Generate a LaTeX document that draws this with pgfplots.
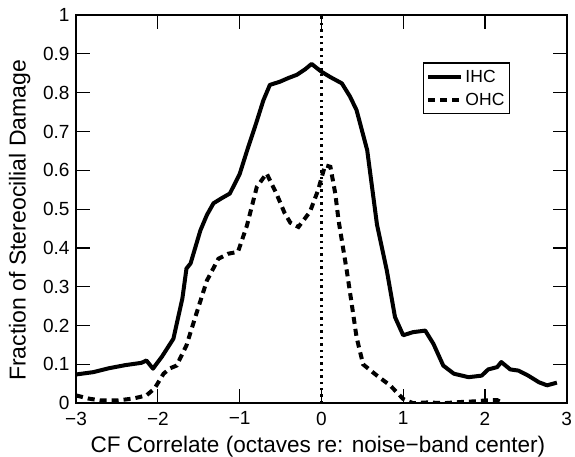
\documentclass[border=0pt]{standalone}
\usepackage{pgfplots}
\pgfplotsset{compat=1.18}
\usepackage{fontspec}
\setmainfont{Liberation Sans}
\begin{document}
\begin{tikzpicture}
\begin{axis}[
  scale only axis,
  width=490pt, height=387.7pt,
  xmin=-3, xmax=3, ymin=0, ymax=1,
  xtick={-3,-2,-1,0,1,2,3},
  xticklabels={−3,−2,−1,0,1,2,3},
  ytick={0,0.1,0.2,0.3,0.4,0.5,0.6,0.7,0.8,0.9,1},
  yticklabels={0,0.1,0.2,0.3,0.4,0.5,0.6,0.7,0.8,0.9,1},
  tick align=inside,
  major tick length=14pt,
  every tick/.style={black, line width=1.2pt},
  axis line style={line width=1.8pt},
  ticklabel style={font=\fontsize{19}{21}\selectfont},
  xticklabel style={yshift=-5pt},
  yticklabel style={xshift=-3pt},
  xlabel={CF Correlate (octaves re: noise−band center)},
  ylabel={Fraction of Stereocilial Damage},
  xlabel style={font=\fontsize{22.5}{25}\selectfont, at={(axis description cs:0.493,-0.126)}, anchor=base},
  ylabel style={font=\fontsize{23}{25}\selectfont, at={(axis description cs:-0.103,0.471)}, anchor=base, rotate=0},
  legend style={at={(axis cs:1.24,0.878)}, anchor=north west, draw=black, line width=1.3pt,
    font=\fontsize{17.5}{19}\selectfont, inner xsep=3pt, inner ysep=5pt, row sep=5pt},
  legend cell align=left,
  legend image code/.code={\draw[#1] (0pt,0pt) -- (33pt,0pt);},
]
\addplot[black, line width=4pt, line join=round] coordinates {
(-3,0.074) (-2.79,0.08) (-2.6,0.09) (-2.4,0.098) (-2.2,0.104) (-2.14,0.11) (-2.06,0.089) (-1.95,0.12) (-1.81,0.166) (-1.70,0.27) (-1.65,0.347) (-1.60,0.36) (-1.48,0.445) (-1.40,0.485) (-1.32,0.515) (-1.22,0.528) (-1.12,0.54) (-1.0,0.59) (-0.91,0.65) (-0.8,0.72) (-0.71,0.78) (-0.63,0.82) (-0.51,0.828) (-0.40,0.838) (-0.30,0.846) (-0.2,0.86) (-0.12,0.874) (0,0.854) (0.11,0.84) (0.25,0.824) (0.35,0.79) (0.43,0.755) (0.56,0.652) (0.68,0.46) (0.80,0.342) (0.90,0.222) (1.0,0.175) (1.12,0.183) (1.27,0.187) (1.37,0.153) (1.49,0.097) (1.62,0.076) (1.80,0.067) (1.96,0.071) (2.04,0.087) (2.15,0.093) (2.2,0.106) (2.31,0.087) (2.41,0.084) (2.53,0.071) (2.66,0.054) (2.76,0.046) (2.88,0.053)
};
\addlegendentry{IHC}
\addplot[black, line width=4pt, dash pattern=on 7pt off 5pt] coordinates {
(-3,0.02) (-2.85,0.012) (-2.7,0.007) (-2.5,0.007) (-2.3,0.012) (-2.14,0.02) (-2.04,0.038) (-1.93,0.076) (-1.85,0.09) (-1.77,0.097) (-1.65,0.149) (-1.53,0.23) (-1.40,0.316) (-1.26,0.372) (-1.14,0.385) (-1.02,0.39) (-0.91,0.458) (-0.79,0.557) (-0.67,0.592) (-0.55,0.54) (-0.45,0.49) (-0.38,0.465) (-0.28,0.454) (-0.14,0.493) (-0.04,0.549) (0.045,0.613) (0.11,0.609) (0.17,0.54) (0.21,0.471) (0.23,0.445) (0.31,0.342) (0.37,0.257) (0.43,0.17) (0.51,0.10) (0.68,0.071) (0.84,0.046) (1.0,0.011) (1.12,0.0) (1.3,0.002) (1.5,0.0) (1.7,0.003) (1.9,0.005) (2.0,0.007) (2.15,0.008) (2.22,0.0)
};
\addlegendentry{OHC}
\addplot[black, line width=2.4pt, dash pattern=on 2.4pt off 4pt, forget plot] coordinates {(0,0) (0,1)};
\end{axis}
\pgfresetboundingbox
\path ([shift={(-76pt,-53.3pt)}]current axis.south west) rectangle ([shift={(8.3pt,15pt)}]current axis.north east);
\end{tikzpicture}
\end{document}
